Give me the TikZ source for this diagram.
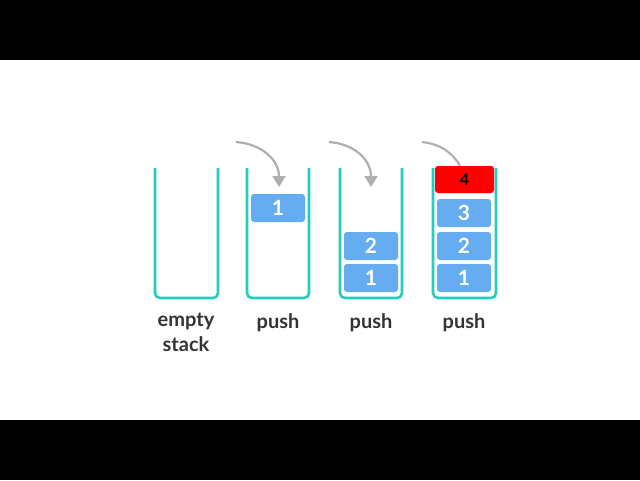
\documentclass[tikz,border=0pt]{standalone}
\usepackage{fontspec}
\setmainfont{Lato}
\usetikzlibrary{arrows.meta}
\definecolor{wallteal}{RGB}{38,204,190}
\definecolor{blockblue}{RGB}{102,172,240}
\definecolor{pushgray}{RGB}{175,175,175}

\begin{document}
\begin{tikzpicture} [x=1pt,y=-1pt,
	wall/.style={draw=wallteal,line width=2.6pt,rounded corners=5pt},
	block/.style={rectangle,rounded corners=3pt,fill=blockblue,text=white,minimum width=54pt,minimum height=28pt,inner sep=0pt,font=\fontsize{21}{21}\selectfont\bfseries},
	topblock/.style={block,fill=red,text=black,minimum width=59pt,minimum height=27pt,font=\fontsize{16}{16}\selectfont\bfseries},
	caption/.style={align=center,font=\fontsize{20}{25}\selectfont\bfseries,text=black!80},
	pusharrow/.style={draw=pushgray,line width=2.2pt,-{Triangle[length=11pt,width=13pt]}}]
		% frame of the video
		\fill[white] (0,0) rectangle (640,480);
		\fill[black] (0,0) rectangle (640,60);
		\fill[black] (0,420) rectangle (640,480);
		% the four stacks
		\draw[wall] (155,168) |- (218,298) -- (218,168);
		\draw[wall] (247,168) |- (309,298) -- (309,168);
		\draw[wall] (340,168) |- (402,298) -- (402,168);
		\draw[wall] (433,168) |- (496,298) -- (496,168);
		% blocks
		\node[block] (b2one) at (278,208) {1};
		\node[block] (b3one) at (371,278) {1};
		\node[block] (b3two) at (371,246) {2};
		\node[block] (b4one) at (464,278) {1};
		\node[block] (b4two) at (464,246) {2};
		\node[block] (b4three) at (464,213) {3};
		% arrows
		\coordinate (s2) at (236,142);
		\coordinate (s3) at (329,142);
		\coordinate (s4) at (422,142);
		\coordinate (e2) at (279,187);
		\coordinate (e3) at (371,187);
		\draw[pusharrow] (s2) .. controls (262,144) and (279,160) .. (e2);
		\draw[pusharrow] (s3) .. controls (355,144) and (371,160) .. (e3);
		\node[topblock] (b4four) at (464.5,179.5) {4};
		\draw[draw=pushgray,line width=2.2pt] (s4) .. controls (440,144) and (452,152) .. (b4four.north west -| 460,0);
		% captions
		\node[caption,anchor=north] (l1) at (186,310) {empty\\stack};
		\node[caption,anchor=north] (l2) at (278,310) {push};
		\node[caption,anchor=north] (l3) at (371,310) {push};
		\node[caption,anchor=north] (l4) at (464,310) {push};
\end{tikzpicture}
\end{document}
